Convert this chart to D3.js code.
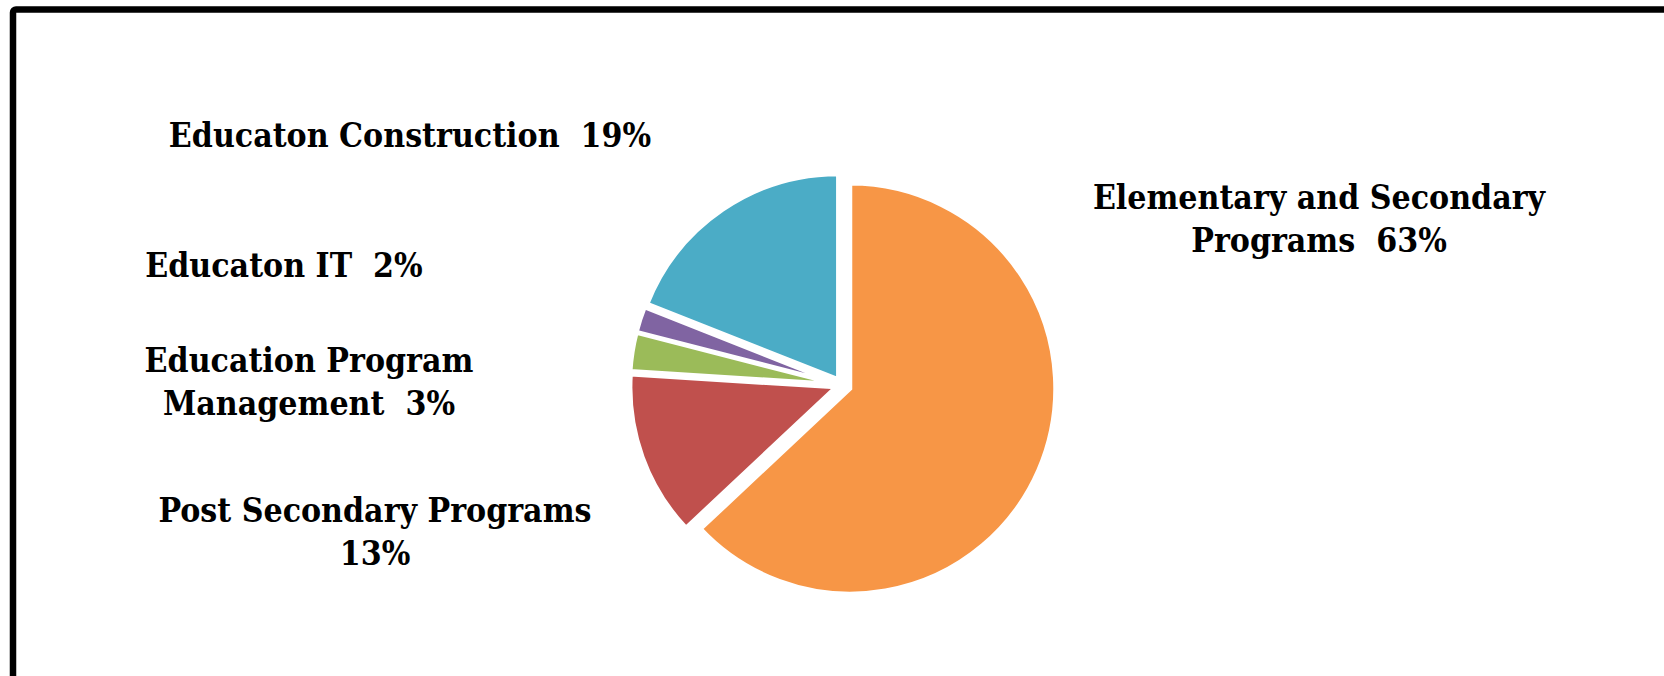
<!DOCTYPE html>
<html>
<head>
<meta charset="utf-8">
<script src="https://d3js.org/d3.v7.min.js"></script>
<style>
  body { margin: 0; background: #fff; }
  .lbl {
    font-family: "DejaVu Serif Condensed", "DejaVu Serif", serif;
    font-weight: bold;
    font-size: 33.5px;
    fill: #000;
    white-space: pre;
  }
</style>
</head>
<body>
<svg width="1664" height="676"></svg>
<script>
// data, in the order the pie goes round clockwise from 12 o'clock
const categories = ['Elementary and Secondary Programs', 'Post Secondary Programs',
  'Education Program Management', 'Educaton IT', 'Educaton Construction'];
const values = [63, 13, 3, 2, 19];
const colors = ['#F79646', '#C0504D', '#9BBB59', '#8064A2', '#4BACC6'];
const labelLines = [
  ['Elementary and Secondary', 'Programs  63%'],
  ['Post Secondary Programs', '13%'],
  ['Education Program', 'Management  3%'],
  ['Educaton IT  2%'],
  ['Educaton Construction  19%']
];

// layout: labels were dragged by hand in the original, so anchors are fixed
const labelAnchor = [[1319, 209], [375, 522], [309, 372], [284, 277], [410, 147]];
const explode = [9, 7, 7, 7, 7];
const cx = 842, cy = 385, radius = 205;
const lineStep = 43;

const svg = d3.select('svg');

// frame (cut off on the right and at the bottom)
svg.append('rect')
  .attr('x', 13)
  .attr('y', 9.5)
  .attr('width', 1700)
  .attr('height', 700)
  .attr('rx', 3)
  .attr('fill', 'none')
  .attr('stroke', '#000')
  .attr('stroke-width', 6.5);

const pie = d3.pie().sort(null).value(d => d)(values);
const arc = d3.arc().innerRadius(0).outerRadius(radius);

const g = svg.append('g')
  .attr('transform', `translate(${cx},${cy})`);

g.selectAll('path').data(pie)
  .enter().append('path')
  .attr('d', arc)
  .attr('fill', (d, i) => colors[i])
  .attr('stroke', '#fff')
  .attr('stroke-width', 4)
  .attr('stroke-linejoin', 'miter')
  .attr('transform', (d, i) => {
    const a = (d.startAngle + d.endAngle) / 2;
    return `translate(${Math.sin(a) * explode[i]},${-Math.cos(a) * explode[i]})`;
  });

// labels
const labels = svg.selectAll('text.lbl').data(labelLines)
  .enter().append('text')
  .attr('class', 'lbl')
  .attr('text-anchor', 'middle')
  .attr('x', (d, i) => labelAnchor[i][0])
  .attr('y', (d, i) => labelAnchor[i][1]);

labels.selectAll('tspan').data((d, i) => d.map(t => ({ t, i })))
  .enter().append('tspan')
  .attr('x', d => labelAnchor[d.i][0])
  .attr('dy', (d, j) => j === 0 ? 0 : lineStep)
  .text(d => d.t);
</script>
</body>
</html>
